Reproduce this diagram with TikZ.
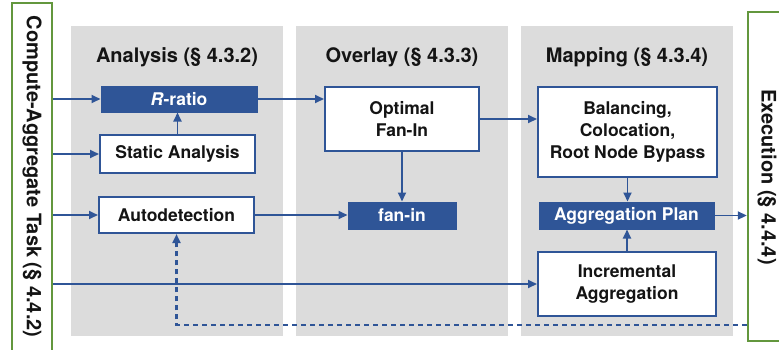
\documentclass[tikz,border=0pt]{standalone}
\usepackage{fontspec}
\setmainfont{TeX Gyre Heros}
\usetikzlibrary{arrows.meta,shadows,calc}
\definecolor{navy}{HTML}{2F5597}
\definecolor{panelgray}{HTML}{DCDCDC}
\definecolor{leaf}{HTML}{63973D}
\definecolor{ink}{HTML}{141414}
\begin{document}
\begin{tikzpicture}[x=1pt,y=-1pt,
  boxfont/.style={font=\bfseries\fontsize{17.5}{22}\selectfont},
  wbox/.style={boxfont, draw=navy, line width=2pt, fill=white, inner sep=0pt,
    align=center, text=ink},
  dbox/.style={boxfont, draw=navy, line width=1pt, fill=navy, inner sep=0pt,
    text=white, drop shadow={shadow xshift=1.2pt, shadow yshift=-1.4pt, opacity=0.3}},
  title/.style={anchor=base, text=ink, font=\bfseries\fontsize{20}{24}\selectfont},
  frame/.style={draw=leaf, line width=2.4pt, fill=white, inner sep=0pt},
  vlabel/.style={rotate=-90, inner sep=0pt, text=ink, font=\bfseries\fontsize{20}{24}\selectfont},
  arr/.style={draw=navy, line width=1.9pt, -{Triangle[length=9pt,width=8pt]}},
  feedback/.style={draw=navy, line width=2.2pt, dash pattern=on 5pt off 4pt,
    -{Triangle[length=9pt,width=8pt]}}
]
\useasboundingbox (0,0) rectangle (779,349);
\clip (0,0) rectangle (779,349);

% stage panels
\fill[panelgray] (71,26) rectangle (283,336);
\fill[panelgray] (296,26) rectangle (508,336);
\fill[panelgray] (521,26) rectangle (733,336);
\node[title] (tana) at (177,62) {Analysis (§ 4.3.2)};
\node[title] (tover) at (402,62) {Overlay (§ 4.3.3)};
\node[title] (tmap) at (627,62) {Mapping (§ 4.3.4)};

% input and output frames
\node[frame, minimum width=40pt, minimum height=356pt] (task) at (32,181) {};
\node[vlabel] (tasklabel) at (32,176.5) {Compute-Aggregate Task (§ 4.4.2)};
\node[frame, minimum width=42pt, minimum height=329pt] (exec) at (769,176.5) {};
\node[vlabel] (execlabel) at (767,177) {Execution (§ 4.4.4)};

% analysis
\node[dbox, minimum width=156pt, minimum height=26pt] (rr) at (179,99) {\textit{R}-ratio};
\node[wbox, minimum width=155pt, minimum height=38pt] (sa) at (177.5,154) {Static Analysis};
\node[wbox, minimum width=155pt, minimum height=36pt] (ad) at (176.5,215) {Autodetection};

% overlay
\node[wbox, minimum width=154pt, minimum height=64pt] (opt) at (402,119) {Optimal\\Fan-In};
\node[dbox, minimum width=108pt, minimum height=27pt] (fan) at (402,215.5) {fan-in};

% mapping
\node[wbox, minimum width=179pt, minimum height=90pt] (bal) at (627.5,132) {Balancing,\\Colocation,\\Root Node Bypass};
\node[dbox, minimum width=175pt, minimum height=27pt] (plan) at (626.5,215.5) {Aggregation Plan};
\node[wbox, minimum width=178pt, minimum height=64pt] (inc) at (627,284) {Incremental\\Aggregation};

% connectors
\draw[arr] (task.east |- rr.west) -- (rr.west);
\draw[arr] (task.east |- sa.west) -- (sa.west);
\draw[arr] (task.east |- ad.west) -- (ad.west);
\draw[arr] (task.east |- inc.west) -- (inc.west);
\draw[arr] (sa.north) -- (sa.north |- rr.south);
\draw[arr] (rr.east) -- (opt.west |- rr.east);
\draw[arr] (opt.east) -- (bal.west |- opt.east);
\draw[arr] (opt.south) -- (fan.north);
\draw[arr] (ad.east) -- (fan.west |- ad.east);
\draw[arr] (bal.south) -- (bal.south |- plan.north);
\draw[arr] (inc.north) -- (inc.north |- plan.south);
\draw[arr] (plan.east) -- (exec.west |- plan.east);
\coordinate (loop) at (176.5,325);
\draw[feedback] (exec.west |- loop) -- (loop) -- (ad.south);
\end{tikzpicture}
\end{document}
